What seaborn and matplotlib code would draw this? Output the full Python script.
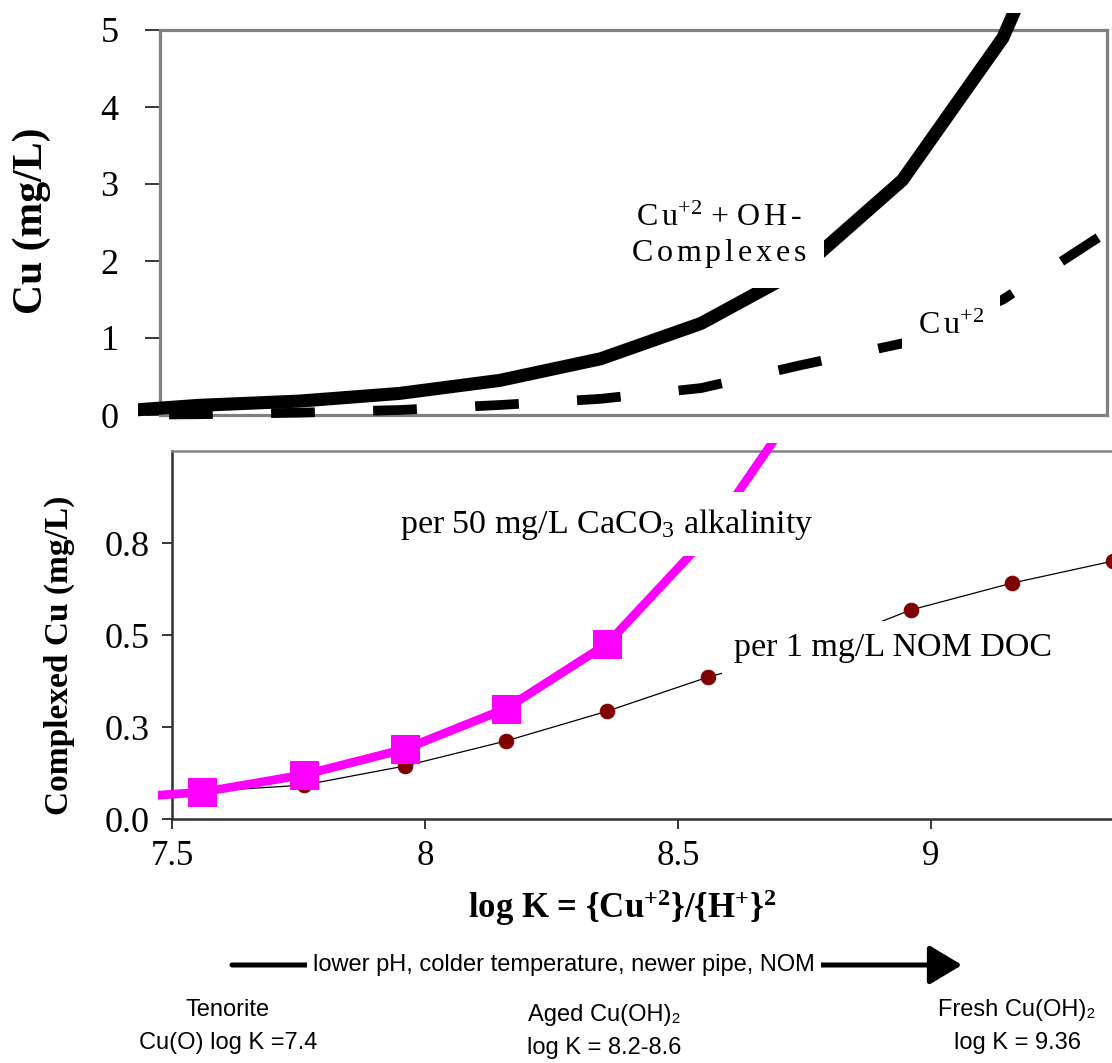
import matplotlib
matplotlib.use("Agg")
import matplotlib.pyplot as plt
from matplotlib.patches import FancyArrowPatch, ArrowStyle
import seaborn as sns

# log K steps; the first one is only seen as a stub cut at the left edge
log_k = [7.36, 7.56, 7.76, 7.96, 8.16, 8.36, 8.56, 8.76, 8.96, 9.16, 9.36]

# top panel: dissolved copper (mg/L)
cu_oh_complexes = [0.03, 0.125, 0.18, 0.28, 0.45, 0.73, 1.19, 1.9, 3.05, 4.9, 7.9]
cu_free = [0.0, 0.01, 0.03, 0.065, 0.13, 0.21, 0.35, 0.65, 0.93, 1.5, 2.35]

# bottom panel: complexed copper (mg/L)
alk_log_k = log_k[:8]
cu_alkalinity = [0.054, 0.073, 0.12, 0.19, 0.30, 0.476, 0.77, 1.17]
nom_log_k = log_k[1:]
cu_nom = [0.075, 0.092, 0.144, 0.212, 0.293, 0.386, 0.46, 0.568, 0.641, 0.701]

top_yticks = [0, 1, 2, 3, 4, 5]
bottom_yticks = [0, 0.25, 0.5, 0.75]
bottom_yticklabels = ["0.0", "0.3", "0.5", "0.8"]
xticks = [7.5, 8, 8.5, 9]
xticklabels = ["7.5", "8", "8.5", "9"]

sns.set_style("white")
plt.rcParams["font.family"] = ["Liberation Serif", "DejaVu Serif"]
plt.rcParams["mathtext.fontset"] = "custom"
plt.rcParams["mathtext.rm"] = "Liberation Serif"
plt.rcParams["mathtext.it"] = "Liberation Serif:italic"
plt.rcParams["mathtext.bf"] = "Liberation Serif:bold"
for key in ["text.color", "axes.labelcolor", "xtick.color", "ytick.color"]:
    plt.rcParams[key] = "black"
SANS = ["Liberation Sans Narrow", "Liberation Sans", "DejaVu Sans"]

W, H = 1112, 1063
fig = plt.figure(figsize=(W / 100, H / 100), dpi=100)


def rect(x0, y0, x1, y1):
    # pixel box -> figure fraction
    return [x0 / W, 1 - y1 / H, (x1 - x0) / W, (y1 - y0) / H]


def spaced(word):
    return r"$\,$".join(word)


# ---------------- top panel ----------------
top = fig.add_axes(rect(138, 13, 1112, 425))
tx = lambda px: 7.5 + (px - 168) / 503
ty = lambda py: (415 - py) / 77
top.set_xlim(tx(138), tx(1112))
top.set_ylim(ty(425), ty(13))

sns.lineplot(x=log_k, y=cu_oh_complexes, ax=top, color="black", lw=9.4,
             zorder=3, sort=False)
sns.lineplot(x=log_k, y=cu_free, ax=top, color="black", lw=7,
             linestyle=(3.15, (4.5, 6.0)), zorder=3, sort=False)

for side in ["left", "right", "top", "bottom"]:
    top.spines[side].set_color("#808080")
    top.spines[side].set_linewidth(2.3)
top.spines["left"].set_position(("data", tx(160)))
top.spines["right"].set_position(("data", tx(1107)))
top.spines["top"].set_position(("data", 5))
top.spines["bottom"].set_position(("data", 0))
top.spines["left"].set_bounds(0, 5)
top.spines["right"].set_bounds(0, 5)
top.spines["top"].set_bounds(tx(160), tx(1107))
top.spines["bottom"].set_bounds(tx(160), tx(1107))

top.set_xticks([])
top.set_yticks(top_yticks)
top.tick_params(axis="y", left=True, direction="out", length=10.8, width=1.1,
                color="black", labelsize=26, pad=19)
top.set_ylabel("Cu (mg/L)", fontsize=30, fontweight="bold", va="center")
top.yaxis.set_label_coords((32 - 138) / 974, (425 - 221) / 412)

top.text(tx(719), ty(237),
         spaced("Cu") + r"$^{+2}$ + " + spaced("OH-") + "\n" + spaced("Complexes"),
         fontsize=23, ha="center", va="center", linespacing=1.2, zorder=5,
         bbox=dict(boxstyle="square,pad=0.55", fc="white", ec="none"))
top.text(tx(951), ty(326), spaced("Cu") + r"$^{+2}$", fontsize=23,
         ha="center", va="center", zorder=5,
         bbox=dict(boxstyle="square,pad=0.5", fc="white", ec="none"))

# ---------------- bottom panel ----------------
bot = fig.add_axes(rect(158, 443, 1112, 819))
bx = lambda px: 7.5 + (px - 172) / 506
by = lambda py: (819 - py) / 368
bot.set_xlim(bx(158), bx(1112))
bot.set_ylim(0, by(443))

sns.lineplot(x=alk_log_k, y=cu_alkalinity, ax=bot, color="#FF00FF", lw=6.3,
             marker="s", markersize=20, markeredgecolor="#FF00FF", zorder=3,
             sort=False)
sns.lineplot(x=nom_log_k, y=cu_nom, ax=bot, color="black", lw=0.9,
             marker="o", markersize=10.5, markerfacecolor="#800000",
             markeredgecolor="#800000", zorder=2.8, sort=False, clip_on=False)
# keep the magenta line above the dots
bot.lines[0].set_zorder(3.2)

bot.spines["right"].set_visible(False)
bot.spines["left"].set_position(("data", 7.5))
bot.spines["top"].set_position(("data", 1.0))
bot.spines["left"].set_bounds(0, 1.0)
bot.spines["top"].set_bounds(7.5, bx(1112))
bot.spines["bottom"].set_bounds(7.5, bx(1112))
bot.spines["left"].set_color("#303030")
bot.spines["bottom"].set_color("#303030")
bot.spines["top"].set_color("#808080")
for side in ["left", "bottom", "top"]:
    bot.spines[side].set_linewidth(1.8)

bot.set_yticks(bottom_yticks)
bot.set_yticklabels(bottom_yticklabels)
bot.set_xticks(xticks)
bot.set_xticklabels(xticklabels)
bot.tick_params(axis="both", direction="out", length=7.2, width=1.1,
                color="black", left=True, bottom=True)
bot.tick_params(axis="y", labelsize=26, pad=9)
bot.tick_params(axis="x", labelsize=25, pad=8)

bot.set_ylabel("Complexed Cu (mg/L)", fontsize=24, fontweight="bold", va="center")
bot.yaxis.set_label_coords((59 - 158) / 954, (819 - 655) / 376)
bot.set_xlabel(r"log K = {Cu$^{\mathbf{+2}}$}/{H$^{\mathbf{+}}$}$^{\mathbf{2}}$",
               fontsize=25, fontweight="bold")
bot.xaxis.set_label_coords((622 - 158) / 954, (819 - 908) / 376)
bot.xaxis.label.set_va("center")

bot.text(bx(607), by(524), r"per 50 mg/L CaCO$_3$ alkalinity", fontsize=24.5,
         ha="center", va="center", zorder=5,
         bbox=dict(boxstyle="square,pad=0.42", fc="white", ec="none"))
bot.text(bx(893), by(648), "per 1 mg/L NOM DOC", fontsize=24.5,
         ha="center", va="center", zorder=5,
         bbox=dict(boxstyle="square,pad=0.35", fc="white", ec="none"))

# ---------------- trend arrow and mineral notes ----------------
arrow = FancyArrowPatch((232 / W, 1 - 965 / H), (962 / W, 1 - 965 / H),
                        transform=fig.transFigure,
                        arrowstyle=ArrowStyle("-|>", head_length=1.0, head_width=0.6),
                        mutation_scale=20, lw=3.6, color="black",
                        shrinkA=0, shrinkB=0)
fig.add_artist(arrow)
fig.text(564 / W, 1 - 965 / H, "lower pH, colder temperature, newer pipe, NOM",
         family=SANS, fontsize=17, ha="center", va="center",
         bbox=dict(boxstyle="square,pad=0.25", fc="white", ec="none"))

notes = [
    (228, 1010, "Tenorite"),
    (228, 1043, "Cu(O) log K =7.4"),
    (604, 1015, "Aged Cu(OH)₂"),
    (604, 1048, "log K = 8.2-8.6"),
    (1017, 1010, "Fresh Cu(OH)₂"),
    (1017, 1043, "log K = 9.36"),
]
for px, py, s in notes:
    fig.text(px / W, 1 - py / H, s, family=SANS, fontsize=17,
             ha="center", va="center")

fig.savefig("out.png", dpi=100)
